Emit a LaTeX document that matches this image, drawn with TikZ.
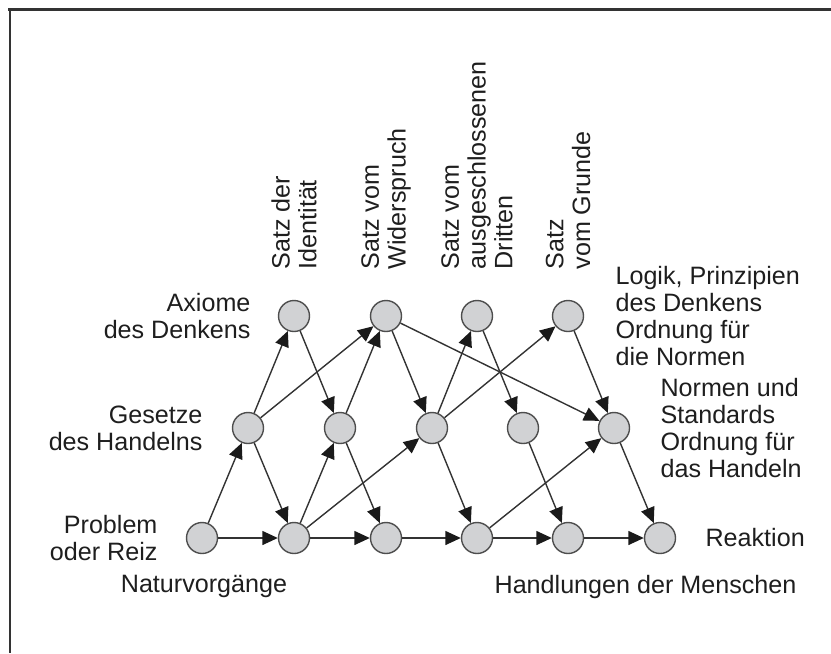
\documentclass[tikz,border=0pt]{standalone}
\usepackage{fontspec}
\setmainfont{Liberation Sans}
\usepackage{tikz}
\usetikzlibrary{arrows.meta,positioning}
\definecolor{circfill}{HTML}{D1D2D4}
\definecolor{circline}{HTML}{4D4D4D}
\definecolor{linegray}{HTML}{333333}
\definecolor{tipgray}{HTML}{1A1A1A}
\definecolor{txt}{HTML}{1E1E1E}

\begin{document}
\begin{tikzpicture}[x=0.2mm,y=-0.2mm,
  dot/.style={circle,draw=circline,fill=circfill,line width=0.28mm,minimum size=6.2mm,inner sep=0pt},
  edge/.style={draw=linegray,line width=0.28mm,-{Triangle[length=3.1mm,width=2.8mm,color=tipgray]}},
  lbl/.style={text=txt,inner sep=0pt,font=\fontsize{14.3pt}{15.2pt}\selectfont},
  vlbl/.style={lbl,rotate=90,anchor=west,align=left}]
\useasboundingbox (0,0) rectangle (831,653);
\draw [linegray,line width=0.5mm] (8,9.5) -- (831,9.5);
\draw [linegray,line width=0.4mm] (9.5,9.5) -- (9.5,653);

\node [dot] (b0) at (202,538) {};
\node [dot] (b1) at (294,538) {};
\node [dot] (b2) at (386,538) {};
\node [dot] (b3) at (477,538) {};
\node [dot] (b4) at (568,538) {};
\node [dot] (b5) at (660,538) {};
\node [dot] (m0) at (248,428) {};
\node [dot] (m1) at (340,428) {};
\node [dot] (m2) at (432,428) {};
\node [dot] (m3) at (523,428) {};
\node [dot] (m4) at (614,428) {};
\node [dot] (t0) at (294,316) {};
\node [dot] (t1) at (386,316) {};
\node [dot] (t2) at (477,316) {};
\node [dot] (t3) at (568,316) {};

\draw [edge] (b0) -- (b1);
\draw [edge] (b1) -- (b2);
\draw [edge] (b2) -- (b3);
\draw [edge] (b3) -- (b4);
\draw [edge] (b4) -- (b5);
\draw [edge] (b0) -- (m0);
\draw [edge] (m0) -- (t0);
\draw [edge] (m0) -- (b1);
\draw [edge] (m0) -- (t1);
\draw [edge] (t0) -- (m1);
\draw [edge] (b1) -- (m1);
\draw [edge] (b1) -- (m2);
\draw [edge] (m1) -- (t1);
\draw [edge] (m1) -- (b2);
\draw [edge] (t1) -- (m2);
\draw [edge] (t1) -- (m4);
\draw [edge] (m2) -- (t2);
\draw [edge] (m2) -- (t3);
\draw [edge] (m2) -- (b3);
\draw [edge] (t2) -- (m3);
\draw [edge] (b3) -- (m4);
\draw [edge] (m3) -- (b4);
\draw [edge] (t3) -- (m4);
\draw [edge] (m4) -- (b5);

\node [lbl,align=right,left=5.4mm of t0] (axiome) {Axiome\\des Denkens};
\node [lbl,align=right,left=5.8mm of m0] (gesetze) {Gesetze\\des Handelns};
\node [lbl,align=right,left=5.6mm of b0] (problem) {Problem\\oder Reiz};
\node [lbl,align=left,right=6.2mm of t3] (logik) {Logik, Prinzipien\\des Denkens\\Ordnung für\\die Normen};
\node [lbl,align=left,right=6mm of m4] (normen) {Normen und\\Standards\\Ordnung für\\das Handeln};
\node [lbl,right=5.8mm of b5] (reaktion) {Reaktion};
\node [lbl,below=4.2mm of b0,xshift=0.4mm] (natur) {Naturvorgänge};
\node [lbl,below=4.2mm of b5,xshift=-2.9mm] (handlungen) {Handlungen der Menschen};

\node [vlbl] (identitaet) at ([yshift=6mm]t0.north) {Satz der\\Identität};
\node [vlbl] (widerspruch) at ([yshift=6mm]t1.north) {Satz vom\\Widerspruch};
\node [vlbl] (dritten) at ([yshift=6mm]t2.north) {Satz vom\\ausgeschlossenen\\Dritten};
\node [vlbl] (grunde) at ([yshift=6mm]t3.north) {Satz\\vom Grunde};
\end{tikzpicture}
\end{document}
